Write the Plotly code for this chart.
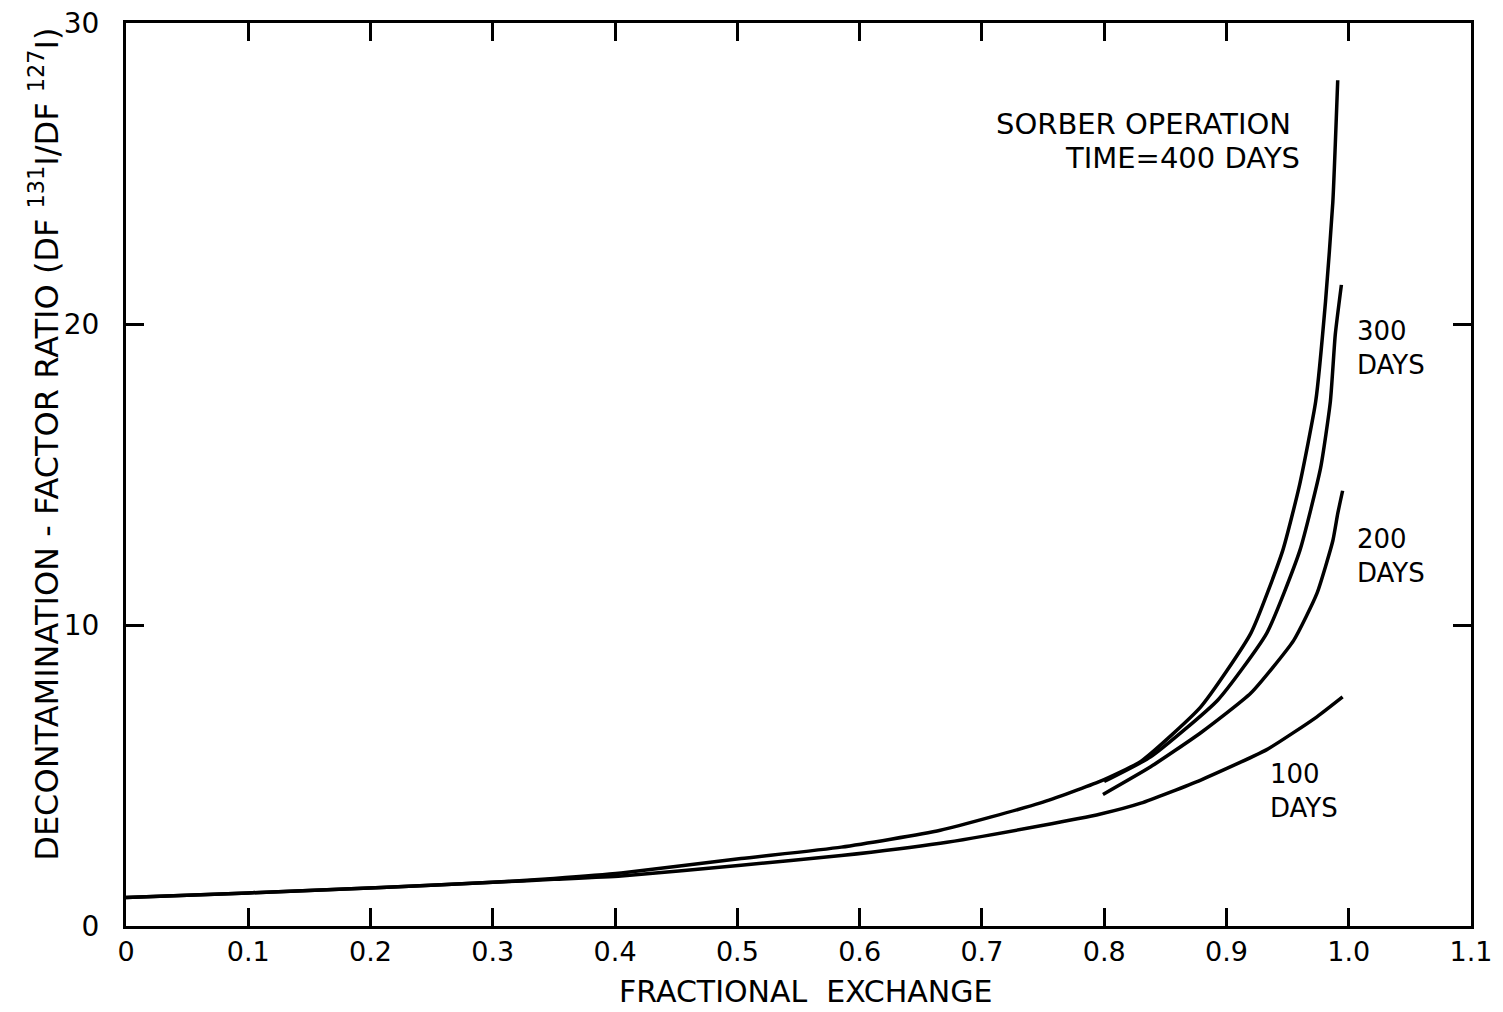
import plotly.graph_objects as go

# ---- data ----
x_400 = [0, 0.1, 0.209, 0.3, 0.35, 0.405, 0.503, 0.585, 0.666, 0.748, 0.797, 0.83,
         0.879, 0.92, 0.946, 0.96, 0.973, 0.981, 0.987, 0.991]
y_400 = [0.95, 1.1, 1.28, 1.45, 1.58, 1.76, 2.24, 2.62, 3.18, 4.09, 4.81, 5.47,
         7.28, 9.73, 12.47, 14.69, 17.43, 20.74, 24.05, 28.1]

x_300 = [0.8, 0.838, 0.893, 0.933, 0.96, 0.977, 0.985, 0.989, 0.994]
y_300 = [4.8, 5.62, 7.51, 9.73, 12.47, 15.22, 17.43, 19.65, 21.3]

x_200 = [0.799, 0.838, 0.879, 0.92, 0.955, 0.974, 0.987, 0.991, 0.995]
y_200 = [4.37, 5.29, 6.42, 7.74, 9.49, 11.05, 12.8, 13.7, 14.46]

x_100 = [0, 0.1, 0.209, 0.3, 0.35, 0.405, 0.503, 0.585, 0.666, 0.748, 0.797,
         0.83, 0.879, 0.933, 0.974, 0.995]
y_100 = [0.95, 1.1, 1.28, 1.45, 1.55, 1.66, 2.02, 2.34, 2.75, 3.33, 3.72, 4.08,
         4.85, 5.86, 6.95, 7.61]

x_tickvals = [0, 0.1, 0.2, 0.3, 0.4, 0.5, 0.6, 0.7, 0.8, 0.9, 1.0, 1.1]
x_ticktext = ["0", "0.1", "0.2", "0.3", "0.4", "0.5", "0.6", "0.7", "0.8",
              "0.9", "1.0", "1.1"]
y_tickvals = [0, 10, 20, 30]
y_ticktext = ["0", "10", "20", "30"]

series = [
    ("400 days", x_400, y_400),
    ("300 days", x_300, y_300),
    ("200 days", x_200, y_200),
    ("100 days", x_100, y_100),
]

FONT = "DejaVu Sans"

fig = go.Figure()
for name, xs, ys in series:
    fig.add_trace(go.Scatter(
        x=xs, y=ys, mode="lines", name=name,
        line=dict(color="black", width=3.5, shape="spline", smoothing=0.5),
        showlegend=False,
    ))

fig.update_layout(
    width=1503, height=1012,
    margin=dict(l=118, r=40, t=15, b=94),
    paper_bgcolor="white", plot_bgcolor="white",
    font=dict(family=FONT, color="black", size=26),
)

fig.update_xaxes(
    range=[0, 1.1], tickvals=x_tickvals, ticktext=x_ticktext,
    ticks="inside", ticklen=18, tickwidth=2.5, tickcolor="black",
    showline=True, linewidth=3, linecolor="black", mirror="ticks",
    showgrid=False, zeroline=False, automargin=False,
    tickfont=dict(size=27, family=FONT), ticklabelstandoff=0,
)
fig.update_yaxes(
    range=[0, 30], tickvals=y_tickvals, ticktext=y_ticktext,
    ticks="inside", ticklen=18, tickwidth=2.5, tickcolor="black",
    showline=True, linewidth=3, linecolor="black", mirror="ticks",
    showgrid=False, zeroline=False, ticklabeloverflow="allow",
    automargin=False,
    tickfont=dict(size=28, family=FONT), ticklabelstandoff=18,
)

# axis titles
fig.add_annotation(
    text="FRACTIONAL  EXCHANGE", xref="paper", yref="paper",
    x=0.505, y=-0.073, showarrow=False, xanchor="center", yanchor="middle",
    font=dict(size=30, family=FONT),
)
fig.add_annotation(
    text="DECONTAMINATION - FACTOR RATIO (DF <sup>131</sup>I/DF <sup>127</sup>I)",
    xref="paper", yref="paper", x=-0.061, y=0.534, textangle=-90,
    showarrow=False, xanchor="center", yanchor="middle",
    font=dict(size=32, family=FONT),
)

# curve labels
fig.add_annotation(
    text="SORBER OPERATION", x=0.9547, y=26.66, xref="x", yref="y",
    showarrow=False, xanchor="right", yanchor="middle",
    font=dict(size=29, family=FONT),
)
fig.add_annotation(
    text="TIME=400 DAYS", x=0.962, y=25.5, xref="x", yref="y",
    showarrow=False, xanchor="right", yanchor="middle",
    font=dict(size=29, family=FONT),
)
for txt, xx, yy in [("300<br>DAYS", 1.0053, 19.19),
                    ("200<br>DAYS", 1.0053, 12.28),
                    ("100<br>DAYS", 0.934, 4.48)]:
    fig.add_annotation(
        text=txt, x=xx, y=yy, xref="x", yref="y", showarrow=False,
        xanchor="left", yanchor="middle", align="left",
        font=dict(size=26, family=FONT),
    )

fig.write_html("out.html")
